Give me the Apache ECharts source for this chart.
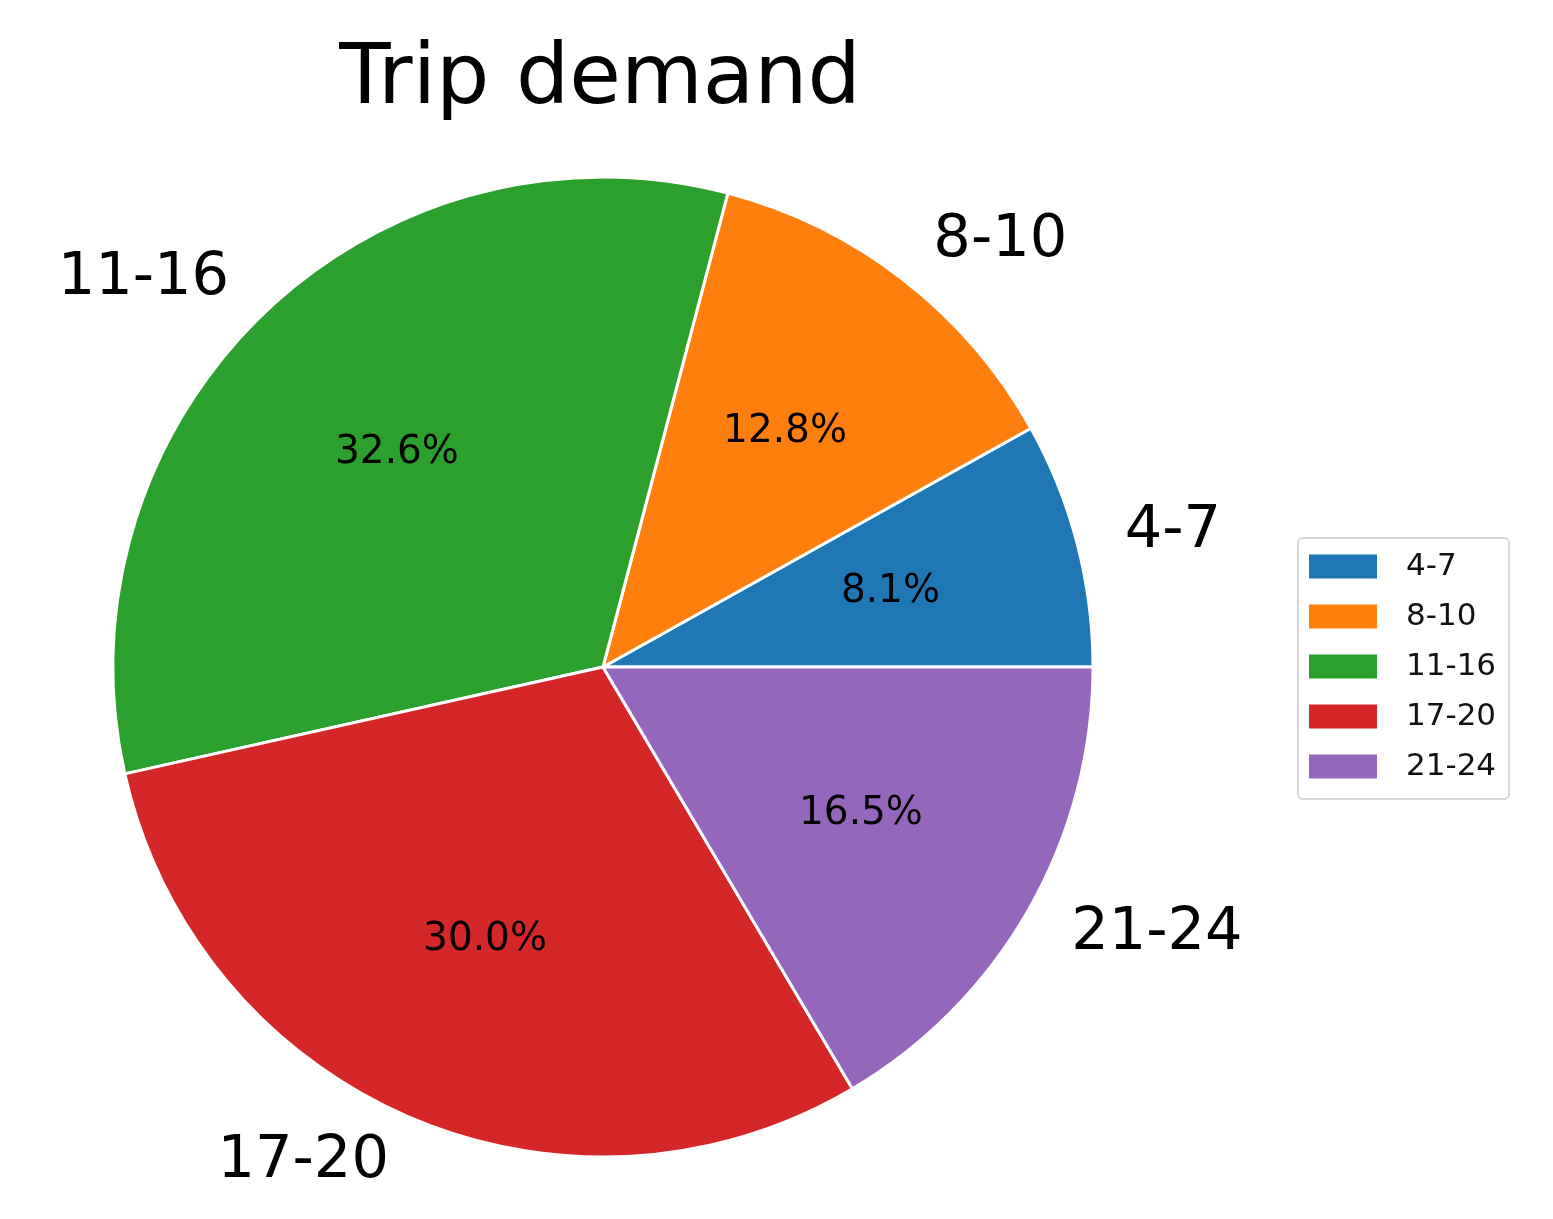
<!DOCTYPE html>
<html>
<head>
<meta charset="utf-8">
<script src="https://cdn.jsdelivr.net/npm/echarts@6/dist/echarts.min.js"></script>
<style>
html,body{margin:0;padding:0;background:#fff;}
#chart{width:1553px;height:1219px;}
</style>
</head>
<body>
<div id="chart"></div>
<script>
const titleText = 'Trip demand';
const categories = ['4-7', '8-10', '11-16', '17-20', '21-24'];
const shares = [8.1, 12.8, 32.6, 30.0, 16.5];
const colors = ['#1f77b4', '#ff7f0e', '#2ca02c', '#d62728', '#9467bd'];

const FONT = 'DejaVu Sans';
const CX = 603, CY = 667, R = 490;

const chart = echarts.init(document.getElementById('chart'), null, {renderer: 'canvas'});

const mainData = categories.map((c, i) => ({name: c, value: shares[i], itemStyle: {color: colors[i]}}));
const pctData = categories.map((c, i) => ({name: c, value: shares[i]}));

chart.setOption({
  animation: false,
  backgroundColor: '#ffffff',
  title: {
    text: titleText,
    left: 600,
    top: 39,
    padding: 0,
    textAlign: 'center',
    textStyle: {fontFamily: FONT, fontSize: 84, fontWeight: 'normal', color: '#000'}
  },
  legend: {
    orient: 'vertical',
    left: 1298,
    top: 538,
    data: categories,
    icon: 'rect',
    itemWidth: 68,
    itemHeight: 24,
    itemGap: 19,
    itemStyle: {borderWidth: 0},
    padding: [13, 13, 17, 11],
    borderColor: '#d6d6d6',
    borderWidth: 2,
    borderRadius: 5,
    backgroundColor: '#fff',
    selectedMode: false,
    textStyle: {fontFamily: FONT, fontSize: 31, color: '#111', padding: [0, 0, 0, 24], lineHeight: 24}
  },
  series: [
    {
      type: 'pie',
      center: [CX, CY],
      radius: [0, R],
      startAngle: 0,
      clockwise: false,
      avoidLabelOverlap: false,
      silent: true,
      itemStyle: {borderColor: '#ffffff', borderWidth: 3},
      label: {
        show: true,
        position: 'outside',
        distanceToLabelLine: 0,
        fontFamily: FONT,
        fontSize: 59,
        color: '#000',
        formatter: '{b}'
      },
      labelLine: {show: false, length: 49, length2: 0},
      emphasis: {disabled: true},
      data: mainData
    },
    {
      type: 'pie',
      center: [CX, CY],
      radius: [R * 0.2, R],
      startAngle: 0,
      clockwise: false,
      avoidLabelOverlap: false,
      silent: true,
      itemStyle: {color: 'rgba(0,0,0,0)', borderWidth: 0},
      label: {
        show: true,
        position: 'inside',
        fontFamily: FONT,
        fontSize: 39,
        color: '#000',
        formatter: p => p.value.toFixed(1) + '%'
      },
      labelLine: {show: false},
      emphasis: {disabled: true},
      data: pctData
    }
  ]
});
</script>
</body>
</html>
